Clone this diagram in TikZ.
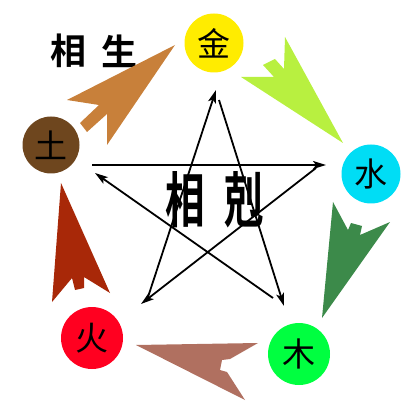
\documentclass[tikz,border=0pt]{standalone}
\usepackage{fontspec}
\newfontfamily\cjk[BoldFont={Noto Sans CJK SC Bold}]{Noto Sans CJK SC}
\usetikzlibrary{arrows.meta}
\definecolor{cjin}{RGB}{255,236,0}
\definecolor{cshui}{RGB}{0,221,245}
\definecolor{cmu}{RGB}{0,255,64}
\definecolor{chuo}{RGB}{255,0,32}
\definecolor{ctu}{RGB}{110,70,30}
\definecolor{aorange}{RGB}{200,128,58}
\definecolor{alime}{RGB}{184,240,64}
\definecolor{agreen}{RGB}{60,138,74}
\definecolor{ared}{RGB}{168,40,8}
\definecolor{abrown}{RGB}{176,112,96}
\begin{document}
\begin{tikzpicture}[x=1pt,y=-1pt,
  elem/.style={circle,inner sep=0pt,text=black,font=\cjk\fontsize{33}{33}\selectfont},
  ke/.style={line width=1.8pt,-{Stealth[length=13pt,width=8pt,inset=3pt]}},
  biglabel/.style={inner sep=0pt,font=\cjk\bfseries\fontsize{36}{36}\selectfont},
  bigke/.style={inner sep=0pt,xscale=0.66,font=\cjk\bfseries\fontsize{60}{60}\selectfont},
  fat/.style={draw=none}]
\useasboundingbox (0,0) rectangle (419,411);
% elements
\node[elem,fill=cjin,minimum size=59pt] (jin) at (214,43) {金};
\node[elem,fill=cshui,minimum size=59pt] (shui) at (371,174) {水};
\node[elem,fill=cmu,minimum size=62pt] (mu) at (299,354) {木};
\node[elem,fill=chuo,minimum size=62pt] (huo) at (92,338) {火};
\node[elem,fill=ctu,minimum size=57pt] (tu) at (51,145) {土};
% labels
\node[biglabel] (xs1) at (68,51) {相};
\node[biglabel] (xs2) at (119,51) {生};
\node[bigke] (xk1) at (185,200) {相};
\node[bigke] (xk2) at (244,200) {剋};
% generating cycle arrows
\fill[aorange,fat] (175,45) -- (67,100) -- (99,105) -- (80,123) -- (87,132) -- (107,114) -- (107,145) -- cycle;
\fill[alime,fat] (343,143) -- (285,37) -- (284,69) -- (275,59) -- (263,65) -- (274,77) -- (241,77) -- cycle;
\fill[agreen,fat] (322,318) -- (333,202) -- (348,230) -- (351,223) -- (362,226) -- (360,235) -- (390,222) -- cycle;
\fill[abrown,fat] (136,345) -- (258,343) -- (230,359) -- (222,360) -- (220,370) -- (227,372) -- (245,400) -- cycle;
\fill[ared,fat] (61,183) -- (110,293) -- (84,277) -- (84,288) -- (75,290) -- (72,278) -- (52,302) -- cycle;
% star coordinates
\coordinate (jinS) at (219,100);
\coordinate (jinT) at (216,90);
\coordinate (shuiS) at (316,168);
\coordinate (shuiT) at (326,165);
\coordinate (muS) at (273,298);
\coordinate (muT) at (284,306);
\coordinate (huoS) at (148,297);
\coordinate (huoT) at (141,304);
\coordinate (tuS) at (92,165);
\coordinate (tuT) at (95,173);
% overcoming arrows
\draw[ke] (tuS) -- (shuiT);
\draw[ke] (jinS) -- (muT);
\draw[ke] (muS) -- (tuT);
\draw[ke] (shuiS) -- (huoT);
\draw[ke] (huoS) -- (jinT);
\end{tikzpicture}
\end{document}
